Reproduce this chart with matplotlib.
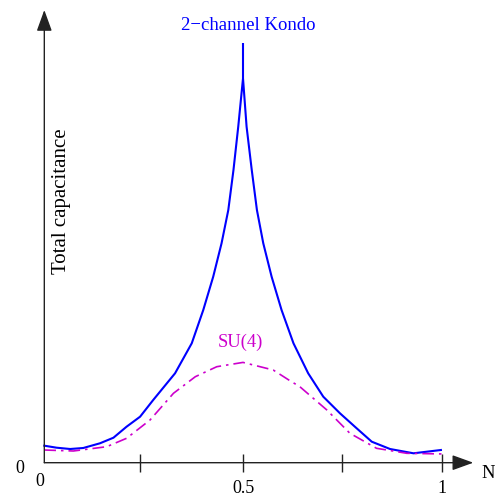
import matplotlib
matplotlib.use('Agg')
import matplotlib.pyplot as plt

# values (y in arbitrary units)
kondo_n = [0.0, 0.031, 0.065, 0.098, 0.140, 0.174, 0.207, 0.241, 0.274, 0.329, 0.371,
           0.400, 0.425, 0.446, 0.463, 0.476, 0.488, 0.5,
           0.509, 0.522, 0.535, 0.551, 0.572, 0.597, 0.627, 0.664, 0.702, 0.744,
           0.786, 0.824, 0.87, 0.929, 0.998]
kondo_c = [0.17, 0.15, 0.137, 0.147, 0.194, 0.25, 0.36, 0.46, 0.627, 0.894, 1.194,
           1.527, 1.86, 2.194, 2.527, 2.927, 3.36, 3.844,
           3.36, 2.927, 2.527, 2.194, 1.86, 1.527, 1.194, 0.894, 0.66, 0.494,
           0.344, 0.21, 0.137, 0.094, 0.127]
kondo_spike = 4.194

su4_n = [0.0, 0.073, 0.157, 0.207, 0.266, 0.325, 0.38, 0.434, 0.5, 0.576, 0.618,
         0.643, 0.711, 0.769, 0.836, 0.912, 1.008]
su4_c = [0.127, 0.117, 0.16, 0.244, 0.427, 0.694, 0.86, 0.96, 1.003, 0.927, 0.82,
         0.76, 0.527, 0.294, 0.144, 0.094, 0.087]

tick_pos = [0.24, 0.5, 0.75, 1.0]
tick_labels = ['0.5', '1']

blue = '#0000ff'
magenta = '#cc00cc'
plt.rcParams['font.family'] = ['Liberation Serif', 'DejaVu Serif']

fig = plt.figure(figsize=(4.95, 4.97), dpi=100)
ax = fig.add_axes([0, 0, 1, 1])
ax.set_xlim(-0.1115, 1.1341)
ax.set_ylim(-0.343, 4.627)
ax.axis('off')

# axes with arrows
arrow = dict(arrowstyle='-|>,head_length=13,head_width=4.7', mutation_scale=1,
             shrinkA=0, shrinkB=0, color='#222222', lw=1)
ax.annotate('', xy=(1.0795, 0), xytext=(0, 0), arrowprops=arrow)
ax.annotate('', xy=(0, 4.527), xytext=(0, 0), arrowprops=arrow)
ax.vlines(tick_pos, -0.09, 0.09, color='#222222', lw=1)

# curves
ax.plot(kondo_n, kondo_c, color=blue, lw=1.5)
ax.vlines(0.5, max(kondo_c), kondo_spike, color=blue, lw=1.5)
ax.plot(su4_n, su4_c, color=magenta, lw=1.2, dashes=(7, 3, 1.5, 3))

# labels
ax.text(0.5144, 4.327, '2\u2212channel Kondo', color=blue, fontsize=13.5,
        ha='center', va='baseline')
ax.text(0.4945, 1.16, 'SU(4)', color=magenta, fontsize=13.3, ha='center', va='baseline')
ax.text(0.0438, 2.612, 'Total capacitance', rotation=90, fontsize=15,
        ha='center', va='center')

ax.text(-0.0624, -0.10, '0', fontsize=13, ha='center', va='baseline')
ax.text(-0.011, -0.23, '0', fontsize=13, ha='center', va='baseline')
ax.text(0.5, -0.305, tick_labels[0], fontsize=13, ha='center', va='baseline')
ax.text(1.0, -0.305, tick_labels[1], fontsize=13, ha='center', va='baseline')
ax.text(1.1165, -0.148, 'N', fontsize=13.3, ha='center', va='baseline')

fig.savefig('out.png', dpi=100)
